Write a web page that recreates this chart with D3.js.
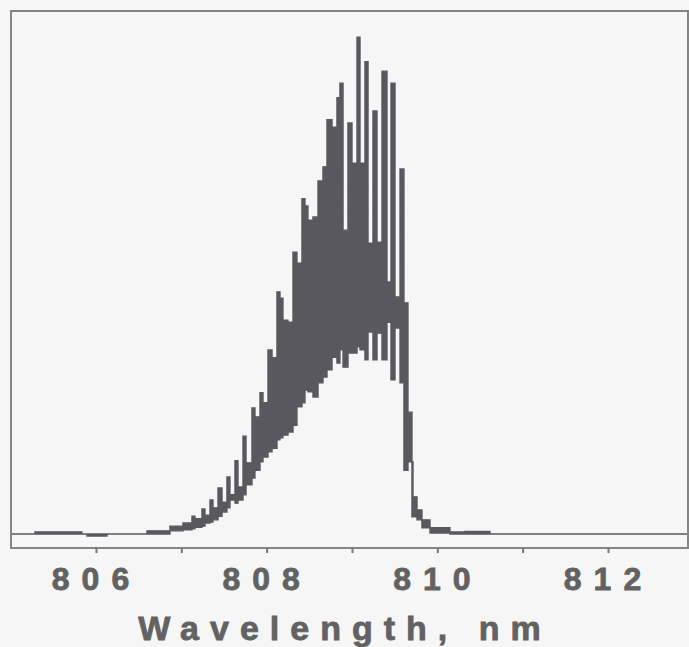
<!DOCTYPE html>
<html>
<head>
<meta charset="utf-8">
<script src="https://cdn.jsdelivr.net/npm/d3@7"></script>
<style>
  html, body { margin: 0; padding: 0; background: #f6f6f6; }
  svg { display: block; }
</style>
</head>
<body>
<svg id="chart" width="689" height="647"></svg>
<script>
// Spectrum. The trace is drawn as steps: each bin has an upper and lower value (a.u.)
const edgeNm = [805.016, 805.285, 805.836, 805.895, 806.129, 806.598, 806.867, 807.020, 807.125, 807.160,
    807.242, 807.277, 807.336, 807.371, 807.430, 807.477, 807.535, 807.570, 807.629, 807.664,
    807.723, 807.758, 807.828, 807.863, 807.922, 807.957, 808.016, 808.063, 808.121, 808.156,
    808.191, 808.250, 808.309, 808.355, 808.414, 808.449, 808.484, 808.543, 808.602, 808.660,
    808.707, 808.766, 808.824, 808.859, 808.895, 808.953, 809.000, 809.059, 809.094, 809.152,
    809.188, 809.246, 809.293, 809.352, 809.410, 809.457, 809.504, 809.563, 809.609, 809.656,
    809.703, 809.715, 809.762, 809.820, 809.914, 810.148, 810.324, 810.617, 812.938];

const hiVal = [0, 0.4, 0, 0, 0, 0.6, 1.5, 2.1, 3.4, 2.9,
    4.8, 3.6, 6.5, 5.0, 8.8, 6.1, 10.9, 7.5, 14.0, 9.0,
    18.7, 13.6, 24.1, 22.4, 27.0, 25.1, 35.2, 33.7, 46.3, 45.1,
    40.9, 40.5, 53.9, 51.8, 64.1, 62.7, 60.0, 60.6, 67.5, 70.2,
    79.2, 77.8, 83.4, 86.2, 58.1, 78.6, 70.9, 95.0, 70.9, 90.3,
    55.6, 80.9, 55.8, 88.5, 48.2, 86.2, 45.3, 69.8, 44.2, 23.3,
    13.8, 7.1, 4.6, 2.7, 1.2, 0.4, 0.5, 0];

const loVal = [0, 0, 0, -0.4, 0, 0, 0.6, 0.8, 1.0, 1.3,
    1.5, 2.1, 2.3, 2.7, 3.4, 4.2, 5.0, 6.5, 5.9, 6.5,
    7.5, 9.4, 10.7, 12.2, 13.8, 14.7, 15.7, 16.4, 18.0, 18.4,
    18.9, 19.5, 20.8, 24.3, 25.1, 27.5, 27.2, 26.2, 28.9, 30.0,
    31.4, 33.8, 32.7, 35.2, 31.9, 34.6, 34.6, 35.8, 35.2, 33.3,
    38.6, 33.3, 38.4, 33.3, 40.5, 29.5, 39.4, 28.9, 12.2, 13.8,
    3.3, 3.3, 2.7, 1.2, 0.2, 0, 0, 0];

const tickNm = [806, 807, 808, 809, 810, 811, 812];
const tickLabels = { 806: '806', 808: '808', 810: '810', 812: '812' };
const xTitle = 'Wavelength, nm';

const svg = d3.select('#chart');
const box = { left: 11, top: 11, right: 688, bottom: 548 };

const x = d3.scaleLinear()
    .domain([805.016, 812.9375])
    .range([box.left + 1, box.right]);

const y = d3.scaleLinear()
    .domain([-2.68, 100])
    .range([box.bottom, box.top]);

// step points: each bin starts at its left edge, last edge closes the final bin
const pts = edgeNm.map((nm, i) => ({
    nm: nm,
    hi: hiVal[Math.min(i, hiVal.length - 1)],
    lo: loVal[Math.min(i, loVal.length - 1)]
}));

const area = d3.area()
    .curve(d3.curveStepAfter)
    .x(d => x(d.nm))
    .y0(d => y(d.lo))
    .y1(d => y(d.hi));

svg.append('path')
    .datum(pts)
    .attr('d', area)
    .style('fill', '#58585e')
    .style('stroke', '#58585e')
    .style('stroke-width', 1.4);

// frame
svg.append('rect')
    .attr('x', box.left)
    .attr('y', box.top)
    .attr('width', box.right - box.left)
    .attr('height', box.bottom - box.top)
    .style('fill', 'none')
    .style('stroke', '#858585')
    .style('stroke-width', 2);

// bottom axis: ticks every nm, labels every 2 nm
const axis = svg.append('g')
    .attr('transform', `translate(0,${box.bottom})`)
    .call(d3.axisBottom(x)
        .tickValues(tickNm)
        .tickSize(5)
        .tickFormat(d => tickLabels[d] || ''));

axis.select('.domain').remove();
axis.selectAll('.tick line')
    .style('stroke', '#777')
    .style('stroke-width', 2);
axis.selectAll('.tick text')
    .attr('y', 42)
    .attr('dy', 0)
    .style('font-family', '"Liberation Sans", Arial, sans-serif')
    .style('font-weight', 'bold')
    .style('font-size', '32px')
    .style('letter-spacing', '12px')
    .style('fill', '#626262')
    .style('stroke', '#626262')
    .style('stroke-width', 0.8);

svg.append('text')
    .attr('x', 345)
    .attr('y', 640)
    .attr('text-anchor', 'middle')
    .style('font-family', '"Liberation Sans", Arial, sans-serif')
    .style('font-weight', 'bold')
    .style('font-size', '34px')
    .style('letter-spacing', '11px')
    .style('fill', '#626262')
    .style('stroke', '#626262')
    .style('stroke-width', 0.8)
    .text(xTitle);
</script>
</body>
</html>
